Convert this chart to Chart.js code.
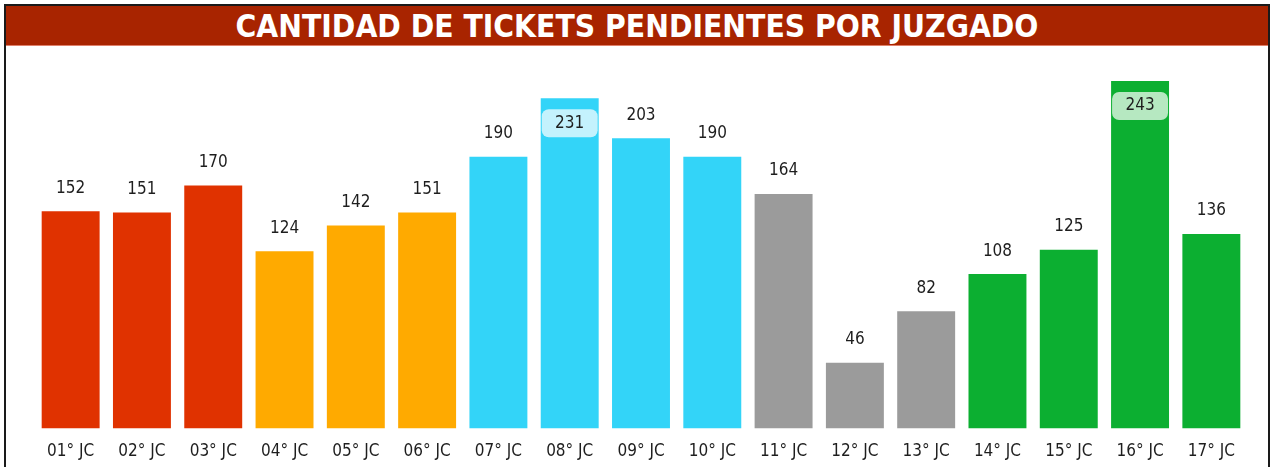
<!DOCTYPE html>
<html>
<head>
<meta charset="utf-8">
<script src="https://cdn.jsdelivr.net/npm/chart.js@4"></script>
<style>
  html, body { margin: 0; padding: 0; background: #fff; }
  body { width: 1272px; height: 467px; position: relative; overflow: hidden; }
  #frame {
    position: absolute; left: 4px; top: 4px; width: 1266px; height: 480px;
    border: 2px solid #1a1a1a; box-sizing: border-box;
  }
  #title {
    position: absolute; left: 6px; top: 6px; width: 1262px; height: 39px;
    background: #a82400; border-bottom: 1px solid #e0806a;
    color: #fff; text-align: center;
    font: bold 31.5px "Liberation Sans Narrow", "DejaVu Sans Condensed", sans-serif;
    line-height: 40px;
  }
  #chart { position: absolute; left: 0; top: 0; }
</style>
</head>
<body>
<div id="frame"></div>
<div id="title">CANTIDAD DE TICKETS PENDIENTES POR JUZGADO</div>
<canvas id="chart" width="1272" height="467"></canvas>
<script>
// datos
const juzgados = ['01° JC','02° JC','03° JC','04° JC','05° JC','06° JC','07° JC','08° JC','09° JC',
                  '10° JC','11° JC','12° JC','13° JC','14° JC','15° JC','16° JC','17° JC'];
const pendientes = [152, 151, 170, 124, 142, 151, 190, 231, 203, 190, 164, 46, 82, 108, 125, 243, 136];
const grupos = ['rojo','rojo','rojo','naranja','naranja','naranja','celeste','celeste','celeste',
                'celeste','gris','gris','gris','verde','verde','verde','verde'];

const colores = { rojo: '#e03200', naranja: '#ffaa00', celeste: '#33d4f8', gris: '#9b9b9b', verde: '#0caf31' };
const coloresCaja = { rojo: '#f5b8a0', naranja: '#ffe0a0', celeste: '#c4f2fd', gris: '#dcdcdc', verde: '#b6e8c1' };

const FONT = '"DejaVu Sans Condensed", "DejaVu Sans", sans-serif';

// etiquetas de valor (arriba de la barra o dentro si no entra)
const etiquetas = {
  id: 'etiquetas',
  afterDatasetsDraw(chart) {
    const ctx = chart.ctx;
    const meta = chart.getDatasetMeta(0);
    const top = chart.chartArea.top;
    ctx.save();
    ctx.font = '17px ' + FONT;
    ctx.textAlign = 'center';
    ctx.textBaseline = 'middle';
    meta.data.forEach((bar, i) => {
      const txt = String(pendientes[i]);
      let y = bar.y - 23;
      if (y - 8 < top) {
        // no entra arriba: caja dentro de la barra
        const w = bar.width - 2, h = 28;
        const bx = bar.x - w / 2, by = bar.y + 11;
        ctx.fillStyle = coloresCaja[grupos[i]];
        ctx.beginPath();
        ctx.roundRect(bx, by, w, h, 7);
        ctx.fill();
        y = by + h / 2;
      }
      ctx.fillStyle = '#1e1e1e';
      ctx.fillText(txt, bar.x, y);
    });
    ctx.restore();
  }
};

new Chart(document.getElementById('chart'), {
  type: 'bar',
  data: {
    labels: juzgados,
    datasets: [{
      data: pendientes,
      backgroundColor: grupos.map(g => colores[g]),
      borderWidth: 0,
      barPercentage: 0.9,
      categoryPercentage: 0.903
    }]
  },
  options: {
    responsive: false,
    animation: false,
    devicePixelRatio: 1,
    layout: { padding: { left: 35, right: 25, top: 71, bottom: 0 } },
    plugins: { legend: { display: false }, tooltip: { enabled: false } },
    scales: {
      x: {
        grid: { display: false },
        border: { display: false },
        ticks: { color: '#1e1e1e', font: { family: FONT, size: 17 }, padding: 5, maxRotation: 0 }
      },
      y: { display: false, min: 0, max: 250 }
    }
  },
  plugins: [etiquetas]
});
</script>
</body>
</html>
